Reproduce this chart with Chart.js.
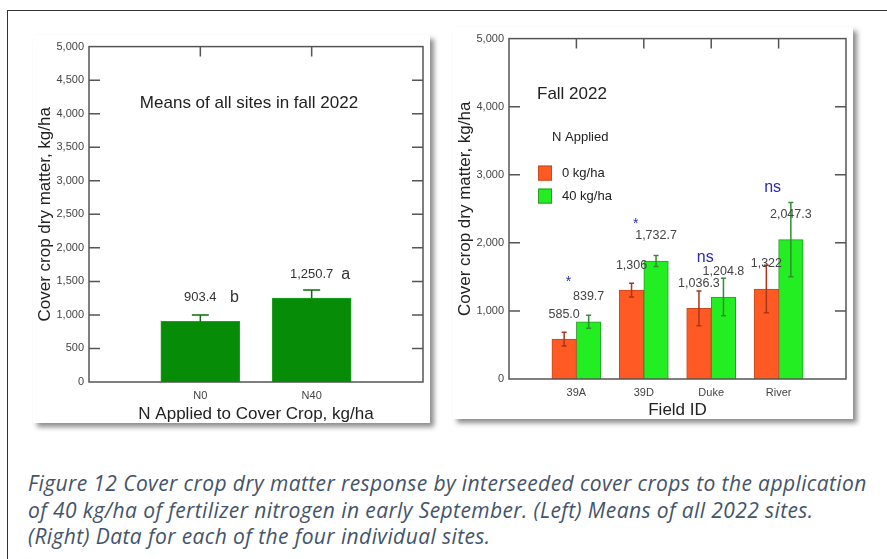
<!DOCTYPE html>
<html>
<head>
<meta charset="utf-8">
<script src="https://cdn.jsdelivr.net/npm/chart.js@4.4.0/dist/chart.umd.min.js"></script>
<style>
  html, body { margin: 0; padding: 0; background: #fff; width: 887px; height: 559px; overflow: hidden; }
  .frame { position: absolute; left: 7px; top: 10px; width: 920px; height: 600px; border-left: 1.5px solid #333; border-top: 1.5px solid #333; }
  .panel { position: absolute; background: #fff; box-shadow: 4px 4px 5px rgba(0, 0, 0, 0.45); }
  #leftPanel { left: 33px; top: 35px; width: 397px; height: 388px; }
  #rightPanel { left: 453px; top: 27px; width: 400px; height: 392px; }
  .caption { position: absolute; left: 28px; top: 470px; font-family: "Open Sans", Lato, sans-serif; font-style: italic;
             font-size: 21px; letter-spacing: 0.4px; line-height: 26.5px; color: #44546a; white-space: nowrap; }
</style>
</head>
<body>
<div class="frame"></div>
<div class="panel" id="leftPanel"><canvas id="meanChart"></canvas></div>
<div class="panel" id="rightPanel"><canvas id="fieldChart"></canvas></div>
<div class="caption">
  <div>Figure 12 Cover crop dry matter response by interseeded cover crops to the application</div>
  <div>of 40 kg/ha of fertilizer nitrogen in early September. (Left) Means of all 2022 sites.</div>
  <div>(Right) Data for each of the four individual sites.</div>
</div>
<script>
// left chart: means of all sites (empty categories at the ends keep the bars at 1/3 and 2/3)
const meanCategories = ["", "N0", "N40", ""];
const meanValues = [null, 903.4, 1250.7, null];
const meanErrors = [null, 95, 120, null];
const meanLabels = [null, "903.4", "1,250.7", null];
const meanLetters = [null, "b", "a", null];

// right chart: each field
const fieldCategories = ["", "39A", "39D", "Duke", "River", ""];
const n0Values = [null, 585.0, 1306, 1036.3, 1322, null];
const n40Values = [null, 839.7, 1732.7, 1204.8, 2047.3, null];
const n0Errors = [null, 100, 100, 255, 350, null];
const n40Errors = [null, 95, 80, 275, 545, null];
const n0Labels = [null, "585.0", "1,306", "1,036.3", "1,322", null];
const n40Labels = [null, "839.7", "1,732.7", "1,204.8", "2,047.3", null];
const significance = [null, "*", "*", "ns", "ns", null];

const FONT = "'Liberation Sans', Arial, sans-serif";
Chart.defaults.font.family = FONT;
Chart.defaults.color = "#333";

// frame round the plot, with inward ticks on all four sides
const boxPlugin = {
  id: "box",
  afterDraw(chart) {
    const { ctx, chartArea: a, scales } = chart;
    ctx.save();
    ctx.strokeStyle = "#555";
    ctx.lineWidth = 1.5;
    ctx.strokeRect(a.left, a.top, a.right - a.left, a.bottom - a.top);
    ctx.beginPath();
    scales.y.ticks.forEach((t, i) => {
      if (t.value <= scales.y.min || t.value >= scales.y.max) return;
      const y = scales.y.getPixelForTick(i);
      ctx.moveTo(a.left, y); ctx.lineTo(a.left + 11, y);
      ctx.moveTo(a.right, y); ctx.lineTo(a.right - 11, y);
    });
    scales.x.ticks.forEach((t, i) => {
      if (!chart.data.labels[i]) return;
      const x = scales.x.getPixelForTick(i);
      ctx.moveTo(x, a.top); ctx.lineTo(x, a.top + 10);
    });
    ctx.stroke();
    ctx.restore();
  },
};

function drawErrors(chart, dsIndex, errors, color, cap, upOnly) {
  const { ctx, scales } = chart;
  const meta = chart.getDatasetMeta(dsIndex);
  const values = chart.data.datasets[dsIndex].data;
  ctx.save();
  ctx.strokeStyle = color;
  ctx.lineWidth = 1.5;
  ctx.beginPath();
  meta.data.forEach((bar, i) => {
    if (values[i] == null) return;
    const hi = scales.y.getPixelForValue(values[i] + errors[i]);
    const lo = upOnly ? scales.y.getPixelForValue(values[i]) : scales.y.getPixelForValue(values[i] - errors[i]);
    ctx.moveTo(bar.x, lo); ctx.lineTo(bar.x, hi);
    ctx.moveTo(bar.x - cap, hi); ctx.lineTo(bar.x + cap, hi);
    if (!upOnly) { ctx.moveTo(bar.x - cap, lo); ctx.lineTo(bar.x + cap, lo); }
  });
  ctx.stroke();
  ctx.restore();
}

function axisY(step, title) {
  return {
    min: 0, max: 5000,
    ticks: { stepSize: step, padding: 5, color: "#444", font: { size: 11 } },
    grid: { display: false, drawTicks: false },
    border: { display: false },
    title: { display: true, text: title, color: "#222", font: { size: 17 }, padding: { top: 2, bottom: 0 } },
    afterFit: (s) => { s.width = 56; },
  };
}

function axisX(title, height) {
  return {
    offset: false,
    ticks: { padding: 7, color: "#444", font: { size: 11 }, autoSkip: false, maxRotation: 0 },
    grid: { display: false, drawTicks: false },
    border: { display: false },
    title: { display: true, text: title, color: "#222", font: { size: 17 }, padding: { top: 0, bottom: -2 } },
    afterFit: (s) => { s.height = height; },
  };
}

// ---- left chart
new Chart(document.getElementById("meanChart"), {
  type: "bar",
  data: {
    labels: meanCategories,
    datasets: [{
      data: meanValues,
      backgroundColor: "#068c06",
      borderColor: "#22a022",
      borderWidth: 1,
      barThickness: 79,
    }],
  },
  options: {
    responsive: true,
    maintainAspectRatio: false,
    animation: false,
    layout: { padding: { top: 8, right: 2, left: 0, bottom: 0 } },
    plugins: { legend: { display: false }, tooltip: { enabled: false } },
    scales: {
      x: axisX("N Applied to Cover Crop, kg/ha", 41),
      y: axisY(500, "Cover crop dry matter, kg/ha"),
    },
  },
  plugins: [boxPlugin, {
    id: "meanNotes",
    afterDatasetsDraw(chart) {
      const { ctx, chartArea: a, scales } = chart;
      drawErrors(chart, 0, meanErrors, "#0b6e0b", 8.5, true);
      const meta = chart.getDatasetMeta(0);
      ctx.save();
      ctx.fillStyle = "#222";
      ctx.textBaseline = "middle";
      ctx.textAlign = "center";
      ctx.font = "17px " + FONT;
      ctx.fillText("Means of all sites in fall 2022", (a.left + a.right) / 2 - 7, a.top + 57);
      meta.data.forEach((bar, i) => {
        if (meanValues[i] == null) return;
        const y = scales.y.getPixelForValue(meanValues[i]) - 24;
        ctx.font = "13px " + FONT;
        ctx.fillStyle = "#333";
        ctx.fillText(meanLabels[i], bar.x, y);
        ctx.font = "16px " + FONT;
        ctx.fillText(meanLetters[i], bar.x + 34, y);
      });
      ctx.restore();
    },
  }],
});

// ---- right chart
new Chart(document.getElementById("fieldChart"), {
  type: "bar",
  data: {
    labels: fieldCategories,
    datasets: [
      { label: "0 kg/ha", data: n0Values, backgroundColor: "#ff5a23", borderColor: "#c84a1c", borderWidth: 1, barThickness: 24.5 },
      { label: "40 kg/ha", data: n40Values, backgroundColor: "#22ee22", borderColor: "#2c9a2c", borderWidth: 1, barThickness: 24.5 },
    ],
  },
  options: {
    responsive: true,
    maintainAspectRatio: false,
    animation: false,
    layout: { padding: { top: 9, right: 1, left: 0, bottom: 0 } },
    plugins: { legend: { display: false }, tooltip: { enabled: false } },
    scales: {
      x: axisX("Field ID", 40),
      y: axisY(1000, "Cover crop dry matter, kg/ha"),
    },
  },
  plugins: [boxPlugin, {
    id: "fieldNotes",
    afterDatasetsDraw(chart) {
      const { ctx, chartArea: a, scales } = chart;
      drawErrors(chart, 0, n0Errors, "#a8361a", 2.5, false);
      drawErrors(chart, 1, n40Errors, "#2f8f2f", 2.5, false);
      ctx.save();
      ctx.textBaseline = "middle";
      ctx.textAlign = "center";
      ctx.font = "12.5px " + FONT;
      ctx.fillStyle = "#444";
      [[n0Values, n0Labels, 0], [n40Values, n40Labels, 1]].forEach(([vals, labels, ds]) => {
        chart.getDatasetMeta(ds).data.forEach((bar, i) => {
          if (vals[i] == null) return;
          ctx.fillText(labels[i], bar.x, scales.y.getPixelForValue(vals[i]) - 25);
        });
      });
      // significance marks above the 40 kg/ha bars
      const sigLift = [0, 43, 40, 39, 52, 0];
      ctx.fillStyle = "#2b2bb5";
      significance.forEach((s, i) => {
        if (!s) return;
        const x = scales.x.getPixelForValue(i) - (s === "*" ? 8 : 6);
        const y = scales.y.getPixelForValue(n40Values[i]) - sigLift[i];
        ctx.font = (s === "*" ? "14px " : "16px ") + FONT;
        ctx.fillText(s, x, s === "*" ? y + 3 : y);
      });
      // legend block
      ctx.textAlign = "left";
      ctx.fillStyle = "#222";
      ctx.font = "17px " + FONT;
      ctx.fillText("Fall 2022", a.left + 28, a.top + 56);
      ctx.font = "13px " + FONT;
      ctx.fillText("N Applied", a.left + 43, a.top + 99);
      chart.data.datasets.forEach((d, k) => {
        const y = a.top + 127 + k * 23;
        ctx.fillStyle = d.backgroundColor;
        ctx.strokeStyle = d.borderColor;
        ctx.lineWidth = 1;
        ctx.fillRect(a.left + 29, y, 14, 15);
        ctx.strokeRect(a.left + 29.5, y + 0.5, 13, 14);
        ctx.fillStyle = "#222";
        ctx.fillText(d.label, a.left + 53, y + 8);
      });
      ctx.restore();
    },
  }],
});
</script>
</body>
</html>
